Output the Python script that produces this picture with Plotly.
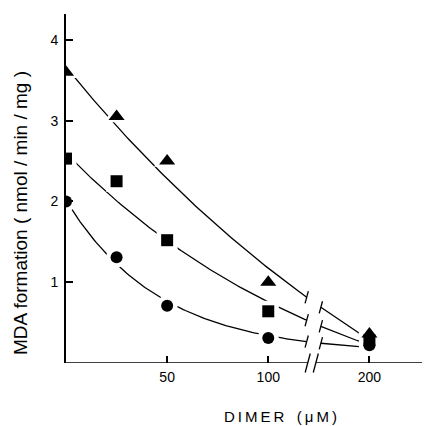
import numpy as np
import plotly.graph_objects as go

# ---- data ----
dimer_uM = [0, 25, 50, 100, 200]
mda_triangle = [3.60, 3.05, 2.50, 1.00, 0.36]
mda_square = [2.53, 2.25, 1.52, 0.64, 0.28]
mda_circle = [2.00, 1.31, 0.71, 0.31, 0.22]
x_tick_values = [50, 100, 200]
x_tick_labels = ["50", "100", "200"]
y_tick_values = [1, 2, 3, 4]
y_tick_labels = ["1", "2", "3", "4"]

# ---- broken x axis: values above 100 compressed ----
BREAK_AT = 100
COMPRESS = 0.5


def axis_pos(c):
    c = np.asarray(c, dtype=float)
    return np.where(c <= BREAK_AT, c, BREAK_AT + (c - BREAK_AT) * COMPRESS)


def exp_fit(x, y, w):
    """weighted least-squares fit y = a*exp(-b*x) + c (smooth decay curve)."""
    x = np.asarray(x, float)
    y = np.asarray(y, float)
    sw = np.sqrt(np.asarray(w, float))
    best = None
    for b in np.linspace(0.0005, 0.08, 3000):
        A = np.column_stack([np.exp(-b * x), np.ones_like(x)])
        coef, *_ = np.linalg.lstsq(A * sw[:, None], y * sw, rcond=None)
        r = np.sum(((A @ coef - y) * sw) ** 2)
        if best is None or r < best[0]:
            best = (r, b, coef)
    _, b, (a, c) = best
    return lambda xs: a * np.exp(-b * np.asarray(xs, float)) + c


FIT_WEIGHTS = [1.0, 0.5, 0.5, 1.0, 1.0]

xp = axis_pos(dimer_uM)
GAP_L, GAP_R = 119.0, 126.0  # curve break (axis units)
AX_GAP_L, AX_GAP_R = 119.5, 123.5

series = [
    ("triangle-up", mda_triangle, 14),
    ("square", mda_square, 12),
    ("circle", mda_circle, 12),
]

fig = go.Figure()

# fitted curves
for sym, vals, sz in series:
    f = exp_fit(xp, vals, FIT_WEIGHTS)
    xs1 = np.linspace(xp[0], GAP_L, 120)
    xs2 = np.linspace(GAP_R, xp[-1], 40)
    ys1 = f(xs1)
    ys2 = f(xs2)
    xs = np.concatenate([xs1, [None], xs2])
    ys = np.concatenate([ys1, [None], ys2])
    fig.add_trace(go.Scatter(x=xs, y=ys, mode="lines",
                             line=dict(color="black", width=1.3),
                             hoverinfo="skip", showlegend=False))
    # break ticks at curve ends
    fig.add_trace(go.Scatter(x=[xs1[-1], xs2[0]], y=[ys1[-1], ys2[0]],
                             mode="markers",
                             marker=dict(symbol="line-ns", size=9, angle=15,
                                         line=dict(color="black", width=1.3)),
                             hoverinfo="skip", showlegend=False))

# white halos around markers (gaps in the curves)
for sym, vals, sz in series:
    fig.add_trace(go.Scatter(x=xp, y=vals, mode="markers",
                             marker=dict(symbol=sym, size=sz + 9, color="white",
                                         line=dict(width=0)),
                             hoverinfo="skip", showlegend=False))

# markers
for sym, vals, sz in series:
    fig.add_trace(go.Scatter(x=xp, y=vals, mode="markers",
                             marker=dict(symbol=sym, size=sz, color="black",
                                         line=dict(width=0)),
                             showlegend=False))

# x axis line drawn as two segments with a break
X_MAX = 176
for x0, x1 in [(0, AX_GAP_L), (AX_GAP_R, X_MAX)]:
    fig.add_shape(type="line", xref="x", yref="y", x0=x0, x1=x1, y0=0, y1=0,
                  line=dict(color="black", width=1.5))
# break squiggles on the axis
fig.add_trace(go.Scatter(x=[AX_GAP_L, AX_GAP_R], y=[0, 0], mode="markers",
                         marker=dict(symbol="line-ns", size=14, angle=15,
                                     line=dict(color="black", width=1.3)),
                         cliponaxis=False, hoverinfo="skip", showlegend=False))

font = "Liberation Sans, Arial, Helvetica, sans-serif"

fig.update_xaxes(range=[0, X_MAX], showline=False, showgrid=False, zeroline=False,
                 tickmode="array", tickvals=list(axis_pos(x_tick_values)),
                 ticktext=x_tick_labels, ticks="inside", ticklen=7, tickwidth=1.5,
                 tickcolor="black", tickfont=dict(family=font, size=14, color="black"),
                 ticklabelstandoff=4)
fig.update_yaxes(range=[0, 4.32], showline=True, linewidth=2, linecolor="black",
                 showgrid=False, zeroline=False,
                 tickmode="array", tickvals=y_tick_values, ticktext=y_tick_labels,
                 ticks="inside", ticklen=7, tickwidth=1.5, tickcolor="black",
                 tickfont=dict(family=font, size=14, color="black"),
                 ticklabelstandoff=3)

W, H, L, R, T, B = 424, 426, 66, 2, 14, 63
pw, ph = W - L - R, H - T - B
ts = "\u2009"
fig.add_annotation(text=ts.join("DIMER") + "&nbsp;&nbsp;&nbsp;" + ts.join("(μM)"),
                   xref="paper", yref="paper",
                   x=(280 - L) / pw, y=-(417 - (H - B)) / ph,
                   showarrow=False, font=dict(family=font, size=15, color="black"),
                   xanchor="center", yanchor="middle")
fig.add_annotation(text="MDA formation ( nmol / min / mg )", xref="paper", yref="paper",
                   x=-(L - 20) / pw, y=((H - B) - 213) / ph,
                   textangle=-90, showarrow=False,
                   font=dict(family=font, size=19, color="black"),
                   xanchor="center", yanchor="middle")

fig.update_layout(width=W, height=H, margin=dict(l=L, r=R, t=T, b=B),
                  plot_bgcolor="white", paper_bgcolor="white")

fig.write_html("out.html", config={"displayModeBar": False},
               post_script="document.body.style.margin='0';"
                           "document.body.style.overflow='hidden';")
